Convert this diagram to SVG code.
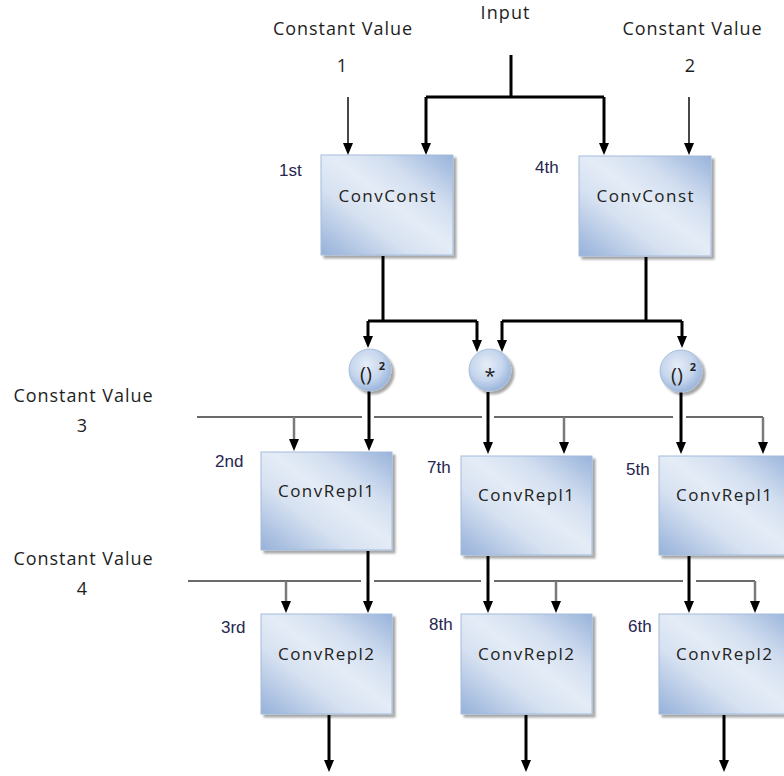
<svg xmlns="http://www.w3.org/2000/svg" width="784" height="776" viewBox="0 0 784 776">
  <style>
    .cap { font-family: "Open Sans", "Noto Sans", sans-serif; font-size: 18px; fill: #1e1e1e; }
    .blk { font-family: "Open Sans", "Noto Sans", sans-serif; font-size: 17px; fill: #222222; }
    .ord { font-family: "Liberation Sans", Arial, sans-serif; font-size: 17px; fill: #26264f; }
    .op { font-family: "Open Sans", "Noto Sans", sans-serif; font-size: 20px; fill: #222222; }
    .sup { font-family: "Open Sans", "Noto Sans", sans-serif; font-size: 11px; font-weight: bold; fill: #222222; }
    .box { fill: url(#boxFill); stroke: #a4bcdc; stroke-width: 1; filter: url(#shadow); }
    .bub { fill: url(#bubFill); stroke: #a8bedd; stroke-width: 1; filter: url(#shadow); }
    .thick { fill: none; stroke: #000000; stroke-width: 3; }
    .thin { fill: none; stroke: #1a1a1a; stroke-width: 1.6; }
    .bus { fill: none; stroke: #3a3a3a; stroke-width: 1.6; }
    .drop { fill: none; stroke: #7a7a7a; stroke-width: 2.5; }
    .arr { marker-end: url(#head); }
  </style>
  <defs>
    <linearGradient id="boxFill" x1="1" y1="0" x2="0" y2="1">
      <stop offset="0" stop-color="#98b3da"/>
      <stop offset="0.28" stop-color="#d2def0"/>
      <stop offset="0.47" stop-color="#e4ecf6"/>
      <stop offset="0.66" stop-color="#d6e1f1"/>
      <stop offset="1" stop-color="#96b1d9"/>
    </linearGradient>
    <radialGradient id="bubFill" cx="0.42" cy="0.38" r="0.62">
      <stop offset="0" stop-color="#e6edf7"/>
      <stop offset="0.6" stop-color="#c6d6ed"/>
      <stop offset="1" stop-color="#9cb6dc"/>
    </radialGradient>
    <filter id="shadow" x="-10%" y="-10%" width="130%" height="130%">
      <feDropShadow dx="3" dy="3" stdDeviation="1.2" flood-color="#000000" flood-opacity="0.35"/>
    </filter>
    <marker id="head" viewBox="0 0 12 10" refX="5" refY="5" markerWidth="12" markerHeight="10" markerUnits="userSpaceOnUse" orient="auto">
      <path d="M0,0 L12,5 L0,10 z" fill="#000000"/>
    </marker>
  </defs>

  <!-- free-standing labels -->
  <g id="labels">
    <text class="cap" x="342.5" y="35" text-anchor="middle" textLength="139" lengthAdjust="spacing">Constant Value</text>
    <text class="cap" x="342" y="72" text-anchor="middle">1</text>
    <text class="cap" x="505" y="19" text-anchor="middle" textLength="49" lengthAdjust="spacing">Input</text>
    <text class="cap" x="692" y="35" text-anchor="middle" textLength="139" lengthAdjust="spacing">Constant Value</text>
    <text class="cap" x="690" y="72" text-anchor="middle">2</text>
    <text class="cap" x="83" y="402" text-anchor="middle" textLength="139" lengthAdjust="spacing">Constant Value</text>
    <text class="cap" x="82" y="432" text-anchor="middle">3</text>
    <text class="cap" x="83" y="565" text-anchor="middle" textLength="139" lengthAdjust="spacing">Constant Value</text>
    <text class="cap" x="82" y="595" text-anchor="middle">4</text>
  </g>

  <!-- connectors -->
  <g id="connectors">
    <!-- input fan-out to both ConvConst blocks -->
    <path class="thick" d="M511,55 V97 M426,97 H604"/>
    <path class="thick arr" d="M426,97 V148"/>
    <path class="thick arr" d="M604,97 V148"/>
    <!-- constants 1 and 2 -->
    <path class="thin arr" d="M348,97 V148"/>
    <path class="thin arr" d="M689,97 V148"/>
    <!-- 1st ConvConst output split -->
    <path class="thick" d="M383,256 V321 M368,321 H477"/>
    <path class="thick arr" d="M368,321 V341"/>
    <path class="thick arr" d="M477,321 V345"/>
    <!-- 4th ConvConst output split -->
    <path class="thick" d="M646,257 V321 M502,321 H682"/>
    <path class="thick arr" d="M502,321 V345"/>
    <path class="thick arr" d="M682,321 V341"/>
    <!-- operators to ConvRepl1 -->
    <path class="thick arr" d="M369,391 V444"/>
    <path class="thick arr" d="M488,392 V447"/>
    <path class="thick arr" d="M681,392 V447"/>
    <!-- constant 3 bus -->
    <path class="bus" d="M197,417 H362 M374,417 H482 M494,417 H673 M686,417 H763"/>
    <path class="drop arr" d="M294,417 V444"/>
    <path class="drop arr" d="M564,417 V447"/>
    <path class="drop arr" d="M763,417 V447"/>
    <!-- ConvRepl1 to ConvRepl2 -->
    <path class="thick arr" d="M368,551 V606"/>
    <path class="thick arr" d="M488,556 V606"/>
    <path class="thick arr" d="M689,556 V606"/>
    <!-- constant 4 bus -->
    <path class="bus" d="M188,581 H361 M374,581 H481 M494,581 H683 M696,581 H755"/>
    <path class="drop arr" d="M286,581 V606"/>
    <path class="drop arr" d="M556,581 V606"/>
    <path class="drop arr" d="M755,581 V606"/>
    <!-- outputs -->
    <path class="thick arr" d="M329,715 V765"/>
    <path class="thick arr" d="M526,715 V765"/>
    <path class="thick arr" d="M724,715 V765"/>
  </g>

  <!-- ConvConst blocks -->
  <g id="node-1st">
    <rect class="box" x="321" y="155" width="132" height="100"/>
    <text class="blk" x="387" y="202" text-anchor="middle" textLength="97" lengthAdjust="spacing">ConvConst</text>
    <text class="ord" x="279" y="176">1st</text>
  </g>
  <g id="node-4th">
    <rect class="box" x="579" y="156" width="132" height="100"/>
    <text class="blk" x="645" y="202" text-anchor="middle" textLength="97" lengthAdjust="spacing">ConvConst</text>
    <text class="ord" x="535" y="173">4th</text>
  </g>

  <!-- operator bubbles -->
  <g id="op-square-left">
    <circle class="bub" cx="370" cy="370" r="21"/>
    <text class="op" x="366" y="381" text-anchor="middle">()</text>
    <text class="sup" x="382" y="370" text-anchor="middle">2</text>
  </g>
  <g id="op-mult">
    <circle class="bub" cx="490" cy="370" r="21"/>
    <text class="op" x="490" y="383" text-anchor="middle">*</text>
  </g>
  <g id="op-square-right">
    <circle class="bub" cx="681" cy="371" r="21"/>
    <text class="op" x="677" y="382" text-anchor="middle">()</text>
    <text class="sup" x="693" y="371" text-anchor="middle">2</text>
  </g>

  <!-- ConvRepl1 blocks -->
  <g id="node-2nd">
    <rect class="box" x="261" y="452" width="131" height="98"/>
    <text class="blk" x="326" y="497" text-anchor="middle" textLength="96" lengthAdjust="spacing">ConvRepl1</text>
    <text class="ord" x="215" y="467">2nd</text>
  </g>
  <g id="node-7th">
    <rect class="box" x="461" y="456" width="131" height="99"/>
    <text class="blk" x="526" y="501" text-anchor="middle" textLength="96" lengthAdjust="spacing">ConvRepl1</text>
    <text class="ord" x="427" y="473">7th</text>
  </g>
  <g id="node-5th">
    <rect class="box" x="659" y="456" width="132" height="99"/>
    <text class="blk" x="724" y="501" text-anchor="middle" textLength="96" lengthAdjust="spacing">ConvRepl1</text>
    <text class="ord" x="626" y="475">5th</text>
  </g>

  <!-- ConvRepl2 blocks -->
  <g id="node-3rd">
    <rect class="box" x="261" y="614" width="131" height="100"/>
    <text class="blk" x="326" y="660" text-anchor="middle" textLength="96" lengthAdjust="spacing">ConvRepl2</text>
    <text class="ord" x="221" y="633">3rd</text>
  </g>
  <g id="node-8th">
    <rect class="box" x="461" y="614" width="131" height="100"/>
    <text class="blk" x="526" y="660" text-anchor="middle" textLength="96" lengthAdjust="spacing">ConvRepl2</text>
    <text class="ord" x="429" y="630">8th</text>
  </g>
  <g id="node-6th">
    <rect class="box" x="659" y="614" width="132" height="100"/>
    <text class="blk" x="724" y="660" text-anchor="middle" textLength="96" lengthAdjust="spacing">ConvRepl2</text>
    <text class="ord" x="628" y="632">6th</text>
  </g>
</svg>
